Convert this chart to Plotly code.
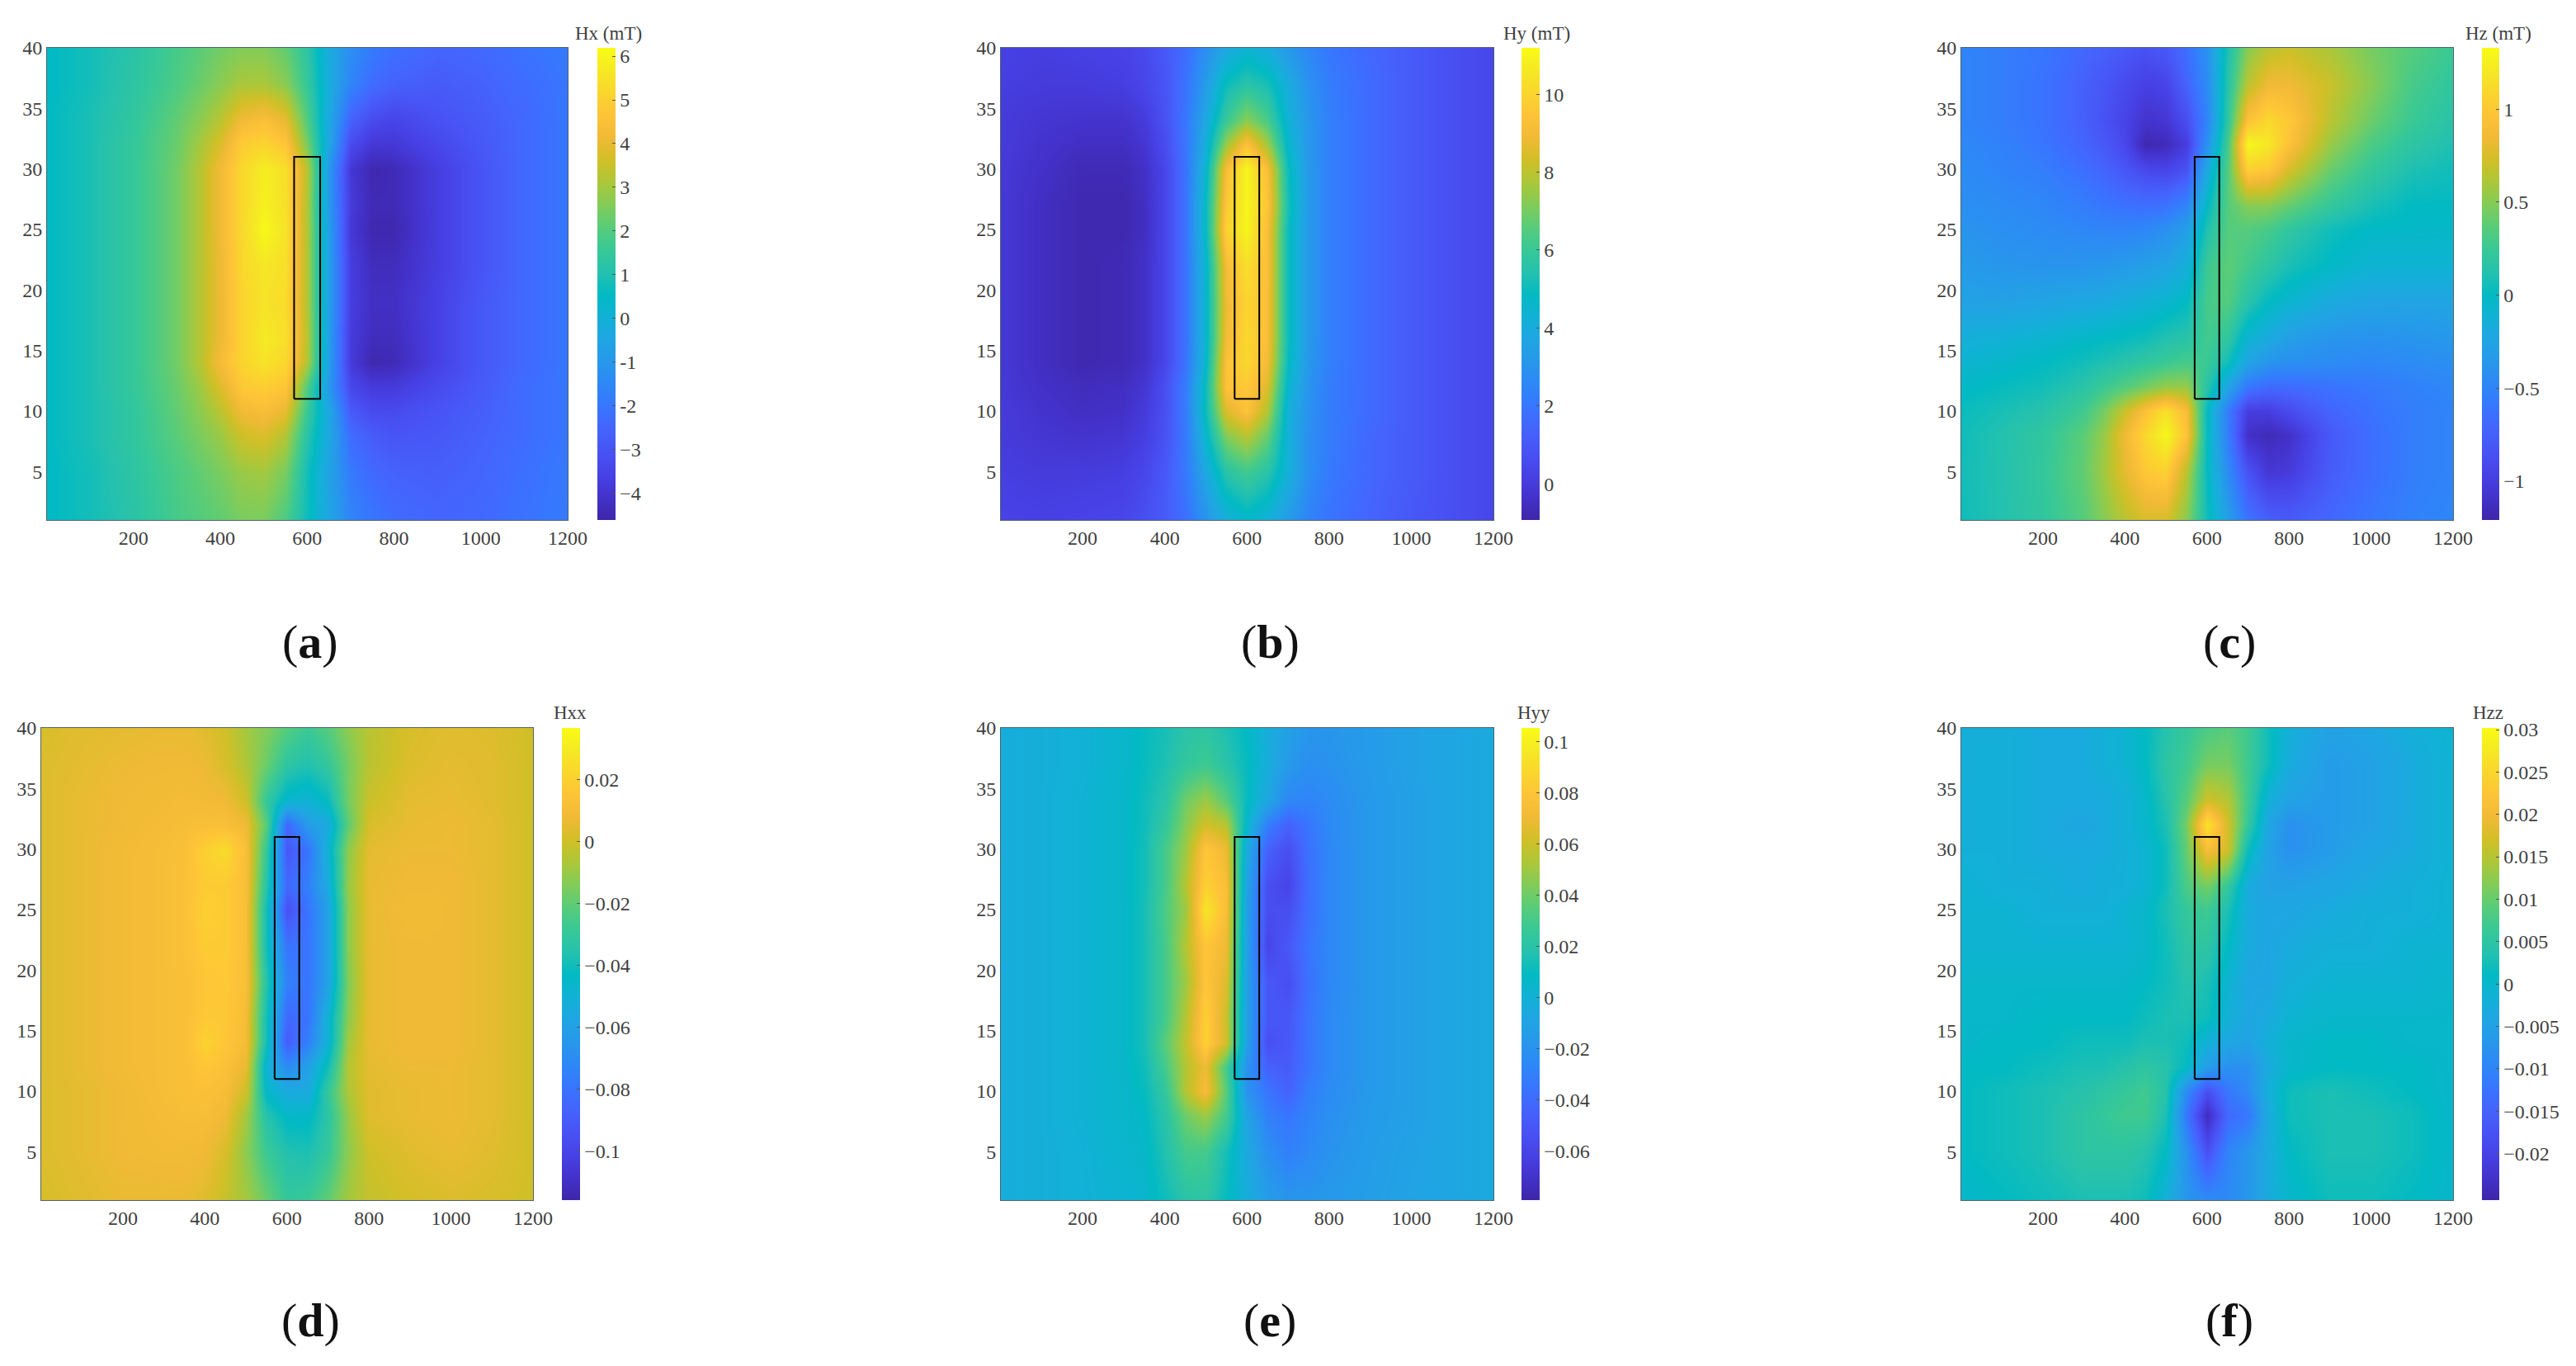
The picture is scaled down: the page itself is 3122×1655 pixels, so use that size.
import plotly.graph_objects as go

W, H = 3122, 1655

x_grid = [1, 100, 200, 300, 350, 400, 450, 500, 550, 600, 650, 700, 750, 800, 900, 1000, 1100, 1200]
y_grid = [40, 37, 34, 32, 30, 27, 25, 22, 19, 16, 14, 12, 10, 8, 5, 1]

rect_x = [570, 630, 630, 570, 570]
rect_y = [11, 11, 31, 31, 11]

hx = [
 [.5,.8,1.2,1.8,2.1,2.4,2.6,2.6,2.2,1.3,-.3,-1.3,-1.9,-2.2,-2.5,-2.4,-2.1,-1.9],
 [.5,.8,1.3,1.9,2.3,2.7,3.1,3.1,2.7,1.5,-.2,-1.6,-2.3,-2.6,-2.8,-2.6,-2.3,-2.0],
 [.5,.9,1.4,2.2,2.7,3.3,4.2,4.5,4.0,2.0,-.4,-2.6,-3.3,-3.5,-3.1,-2.8,-2.4,-2.0],
 [.5,.9,1.5,2.3,3.0,3.8,4.9,5.1,4.7,2.5,-.5,-3.3,-3.9,-3.9,-3.4,-2.9,-2.4,-2.0],
 [.5,.9,1.5,2.4,3.2,4.2,5.2,5.8,5.4,3.3,-1.0,-3.9,-4.5,-4.4,-3.7,-3.0,-2.4,-2.0],
 [.5,.9,1.5,2.4,3.2,4.2,5.2,5.9,5.4,3.2,-1.0,-3.8,-4.4,-4.4,-3.7,-3.0,-2.4,-2.0],
 [.5,.9,1.5,2.4,3.2,4.2,5.2,6.1,5.5,3.2,-.8,-3.9,-4.5,-4.5,-3.7,-3.0,-2.4,-2.0],
 [.5,.9,1.5,2.4,3.2,4.1,5.2,5.6,5.4,3.2,-.8,-3.7,-4.3,-4.3,-3.7,-3.0,-2.4,-2.0],
 [.5,.9,1.5,2.4,3.2,4.1,5.1,5.5,5.3,3.2,-.8,-3.7,-4.2,-4.2,-3.6,-2.9,-2.4,-2.0],
 [.5,.9,1.5,2.4,3.2,4.1,5.1,5.7,5.4,3.3,-.8,-3.8,-4.3,-4.3,-3.6,-2.9,-2.4,-2.0],
 [.5,.9,1.5,2.4,3.2,4.3,5.1,5.5,5.2,3.2,-.8,-3.8,-4.5,-4.4,-3.6,-2.9,-2.4,-2.0],
 [.5,.9,1.5,2.3,2.9,3.8,4.8,4.9,4.7,2.0,-1.0,-3.4,-3.8,-3.8,-3.3,-2.8,-2.3,-2.0],
 [.5,.9,1.4,2.2,2.7,3.3,4.2,4.4,4.0,1.6,-.5,-2.8,-3.3,-3.3,-3.0,-2.7,-2.3,-2.0],
 [.5,.9,1.4,2.1,2.5,2.9,3.6,3.8,3.2,1.2,-.4,-2.3,-2.8,-3.0,-2.9,-2.6,-2.3,-2.0],
 [.5,.8,1.3,1.9,2.2,2.5,2.9,3.0,2.5,.8,-.6,-1.9,-2.4,-2.6,-2.7,-2.5,-2.2,-1.9],
 [.5,.8,1.2,1.8,2.0,2.2,2.5,2.5,1.9,.7,-.5,-1.6,-2.0,-2.3,-2.5,-2.4,-2.1,-1.9],
]

hy = [
 [.2,.1,.2,.3,.5,1,1.7,2.8,3.8,4.4,4.0,3.2,2.5,2.0,1.5,1.1,.7,.4],
 [.1,0,0,.1,.4,.9,1.9,3.3,5.0,5.6,5.2,4.0,2.9,2.2,1.6,1.1,.7,.4],
 [0,-.2,-.3,-.3,0,.8,2.0,3.8,6.0,7.3,6.3,4.3,3.1,2.3,1.6,1.1,.7,.4],
 [0,-.3,-.5,-.5,-.2,.6,2.0,4.1,7.5,9.4,7.6,4.6,3.1,2.3,1.6,1.1,.7,.4],
 [-.1,-.4,-.7,-.7,-.4,.4,1.9,4.5,9.2,11,9.2,5,3.2,2.3,1.6,1.1,.7,.4],
 [-.1,-.5,-.8,-.8,-.5,.4,1.9,4.8,9.6,11,9.5,5.2,3.2,2.3,1.6,1.1,.7,.4],
 [-.1,-.5,-.8,-.8,-.5,.4,1.9,4.8,9.9,11,9.2,5,3.2,2.3,1.6,1.1,.7,.4],
 [-.1,-.5,-.8,-.7,-.4,.4,1.9,4.5,9.1,10.3,9.2,5,3.2,2.3,1.6,1.1,.7,.4],
 [-.1,-.5,-.8,-.7,-.4,.4,1.9,4.5,8.9,10,9.2,5,3.2,2.3,1.6,1.1,.7,.4],
 [-.1,-.5,-.8,-.7,-.4,.4,1.9,4.5,9.0,10.1,9.2,5,3.2,2.3,1.6,1.1,.7,.4],
 [-.1,-.5,-.8,-.7,-.4,.4,1.9,4.6,9.4,10.1,9.0,4.9,3.1,2.3,1.6,1.1,.7,.4],
 [-.1,-.4,-.6,-.5,-.2,.7,2.2,5,9.4,9.6,8.5,4.5,3.0,2.2,1.6,1.1,.7,.4],
 [0,-.3,-.5,-.4,0,.7,2.2,5,8.5,9.4,7.8,4.2,2.9,2.2,1.6,1.1,.7,.4],
 [0,-.2,-.3,-.2,.1,.8,2.1,4.6,7.2,8.0,6.8,4.2,2.8,2.2,1.5,1.1,.7,.4],
 [.1,0,0,.1,.4,1,2.1,3.8,5.6,6.2,5.6,4.2,2.8,2.1,1.5,1.1,.7,.4],
 [.3,.2,.3,.4,.7,1.1,1.8,3,4.1,4.6,4.2,3.3,2.4,1.9,1.4,1.0,.7,.4],
]

hz = [
 [-.5,-.55,-.6,-.7,-.75,-.8,-.85,-.8,-.65,-.4,.1,.5,.65,.7,.6,.45,.35,.25],
 [-.5,-.55,-.62,-.75,-.82,-.9,-.98,-.95,-.72,-.45,.15,.65,.85,.85,.7,.5,.3,.2],
 [-.5,-.55,-.62,-.75,-.85,-.95,-1.08,-1.05,-.88,-.5,.2,.95,1.1,1.0,.65,.42,.25,.15],
 [-.47,-.52,-.6,-.72,-.8,-.92,-1.18,-1.15,-1.0,-.4,.3,1.3,1.2,.95,.55,.32,.18,.1],
 [-.45,-.5,-.55,-.65,-.72,-.82,-.92,-.95,-.85,-.2,.35,1.05,1.0,.75,.42,.22,.1,.05],
 [-.42,-.45,-.48,-.55,-.6,-.63,-.65,-.62,-.5,0,.35,.5,.5,.4,.22,.08,0,0],
 [-.38,-.42,-.45,-.48,-.5,-.5,-.48,-.42,-.3,.12,.35,.35,.3,.2,.05,-.02,-.02,-.03],
 [-.33,-.37,-.38,-.38,-.36,-.33,-.3,-.25,-.15,.25,.38,.28,.18,.08,-.02,-.1,-.1,-.1],
 [-.27,-.27,-.25,-.22,-.2,-.15,-.12,-.07,0,.3,.35,.15,0,-.08,-.2,-.25,-.25,-.25],
 [-.15,-.12,-.08,-.03,0,.02,.05,.12,.15,.28,.2,-.1,-.2,-.3,-.38,-.4,-.38,-.35],
 [-.08,-.05,0,.06,.1,.15,.2,.25,.3,.25,.05,-.25,-.38,-.42,-.45,-.48,-.45,-.42],
 [-.02,.02,.06,.16,.26,.35,.45,.55,.55,.15,-.25,-.6,-.68,-.68,-.62,-.58,-.52,-.48],
 [.03,.08,.14,.28,.45,.7,.95,1.15,.9,0,-.55,-1.0,-1.0,-.9,-.72,-.62,-.55,-.5],
 [.05,.12,.2,.38,.55,.85,1.1,1.3,.95,0,-.55,-1.1,-1.15,-1.1,-.8,-.65,-.55,-.5],
 [.06,.12,.22,.4,.58,.8,1.0,1.05,.65,0,-.45,-.85,-1.05,-1.02,-.78,-.65,-.55,-.5],
 [.05,.12,.2,.36,.5,.65,.75,.75,.5,.05,-.3,-.62,-.75,-.78,-.7,-.6,-.52,-.48],
]

hxx = [
 [.002,.004,.005,.006,.006,.004,0,-.008,-.014,-.022,-.028,-.022,-.012,-.004,.002,.004,.003,0],
 [.003,.005,.007,.008,.008,.007,.002,-.006,-.018,-.032,-.036,-.03,-.016,-.004,.003,.005,.004,0],
 [.003,.006,.008,.009,.010,.009,.008,0,-.03,-.047,-.05,-.042,-.016,-.001,.005,.006,.004,0],
 [.003,.006,.008,.01,.011,.012,.012,.008,-.022,-.085,-.062,-.055,-.02,.002,.006,.007,.005,0],
 [.003,.006,.009,.011,.012,.02,.024,.012,-.03,-.092,-.08,-.05,-.012,.005,.007,.007,.005,0],
 [.003,.006,.009,.011,.013,.018,.018,.012,-.035,-.085,-.075,-.055,-.01,.006,.008,.008,.005,0],
 [.003,.006,.009,.011,.013,.02,.018,.012,-.04,-.095,-.08,-.06,-.012,.006,.009,.008,.005,0],
 [.003,.006,.009,.011,.013,.018,.018,.012,-.04,-.08,-.08,-.06,-.012,.006,.008,.008,.005,0],
 [.003,.006,.009,.011,.012,.016,.017,.012,-.035,-.075,-.08,-.06,-.014,.006,.008,.008,.005,0],
 [.003,.006,.009,.011,.012,.017,.017,.01,-.04,-.085,-.08,-.05,-.012,.006,.008,.008,.005,0],
 [.003,.006,.009,.011,.012,.021,.016,.01,-.04,-.09,-.075,-.05,-.008,.006,.008,.008,.005,0],
 [.003,.006,.009,.011,.012,.016,.013,.006,-.05,-.07,-.06,-.04,-.005,.005,.007,.007,.005,0],
 [.003,.005,.008,.011,.012,.013,.011,0,-.045,-.055,-.055,-.03,-.006,.004,.006,.007,.005,0],
 [.003,.005,.008,.01,.011,.011,.008,-.008,-.035,-.045,-.045,-.033,-.01,.004,.006,.007,.005,0],
 [.003,.005,.008,.009,.009,.008,.002,-.012,-.028,-.036,-.038,-.03,-.012,0,.004,.006,.004,0],
 [.002,.004,.006,.006,.006,.004,-.002,-.008,-.018,-.03,-.028,-.02,-.008,-.002,.001,.003,.002,0],
]

hyy = [
 [-.003,-.002,0,.005,.01,.014,.02,.022,.016,.008,-.003,-.012,-.018,-.018,-.015,-.011,-.008,-.005],
 [-.003,-.002,0,.005,.01,.016,.024,.028,.02,.01,-.003,-.016,-.022,-.02,-.015,-.011,-.008,-.005],
 [-.003,-.002,.001,.006,.012,.02,.04,.05,.035,.01,-.008,-.026,-.028,-.024,-.016,-.012,-.008,-.005],
 [-.003,-.002,.001,.006,.012,.024,.045,.062,.055,.005,-.03,-.045,-.035,-.025,-.016,-.012,-.008,-.005],
 [-.003,-.002,.001,.006,.013,.03,.05,.08,.07,-.005,-.045,-.055,-.037,-.026,-.016,-.012,-.008,-.005],
 [-.003,-.002,.001,.006,.013,.03,.055,.085,.075,-.01,-.055,-.06,-.038,-.026,-.016,-.012,-.008,-.005],
 [-.003,-.002,.001,.006,.014,.032,.05,.095,.075,-.012,-.055,-.055,-.038,-.026,-.016,-.012,-.008,-.005],
 [-.003,-.002,.001,.006,.014,.03,.055,.08,.07,-.012,-.06,-.05,-.035,-.026,-.016,-.012,-.008,-.005],
 [-.003,-.002,.001,.006,.014,.03,.05,.08,.065,-.012,-.05,-.055,-.037,-.026,-.016,-.012,-.008,-.005],
 [-.003,-.002,.001,.006,.014,.03,.055,.085,.06,-.012,-.05,-.05,-.035,-.025,-.016,-.012,-.008,-.005],
 [-.003,-.002,.001,.006,.014,.035,.058,.085,.062,-.012,-.055,-.05,-.035,-.025,-.016,-.012,-.008,-.005],
 [-.003,-.002,.001,.006,.012,.03,.055,.07,.03,-.02,-.045,-.048,-.035,-.025,-.016,-.012,-.008,-.005],
 [-.003,-.002,.001,.005,.01,.024,.055,.075,.035,-.02,-.035,-.045,-.03,-.024,-.016,-.012,-.008,-.005],
 [-.003,-.002,.001,.005,.008,.02,.04,.05,.03,-.01,-.03,-.035,-.028,-.022,-.015,-.012,-.008,-.005],
 [-.003,-.002,0,.004,.006,.017,.03,.03,.014,-.006,-.022,-.03,-.025,-.02,-.014,-.011,-.008,-.005],
 [-.003,-.002,0,.002,.004,.012,.02,.022,.01,-.003,-.014,-.018,-.018,-.016,-.013,-.01,-.008,-.005],
]

hzz = [
 [-.002,-.002,-.003,-.003,-.002,-.001,.001,.004,.006,.008,.009,.007,.002,-.002,-.005,-.004,-.002,-.001],
 [-.002,-.002,-.003,-.003,-.002,-.001,.001,.005,.007,.011,.011,.007,.002,-.003,-.006,-.005,-.003,-.001],
 [-.002,-.002,-.003,-.003,-.003,-.002,0,.004,.009,.017,.015,.007,-.002,-.005,-.006,-.005,-.003,-.001],
 [-.002,-.002,-.003,-.004,-.003,-.002,0,.003,.011,.027,.017,.006,-.004,-.008,-.006,-.005,-.003,-.001],
 [-.002,-.002,-.003,-.003,-.003,-.002,-.001,.002,.01,.021,.017,.002,-.005,-.008,-.006,-.004,-.003,-.001],
 [-.001,-.002,-.002,-.003,-.002,-.002,-.001,.002,.008,.011,.006,-.003,-.005,-.005,-.004,-.003,-.002,-.001],
 [-.001,-.001,-.002,-.002,-.002,-.001,0,.003,.006,.007,.003,-.003,-.004,-.004,-.003,-.002,-.002,-.001],
 [-.001,-.001,-.001,-.001,-.001,-.001,0,.002,.005,.005,.001,-.003,-.004,-.003,-.002,-.002,-.001,-.001],
 [0,0,0,0,0,0,.001,.002,.004,.003,-.001,-.004,-.004,-.002,-.001,-.001,-.001,0],
 [0,0,.001,.001,.001,.001,.002,.003,.003,.002,-.002,-.004,-.003,-.001,0,0,0,0],
 [0,.001,.001,.002,.002,.002,.003,.003,.002,-.002,-.004,-.005,-.002,0,.001,.001,0,0],
 [.001,.001,.002,.003,.003,.004,.005,.004,.001,-.006,-.008,-.008,-.003,0,.001,.001,.001,0],
 [.001,.002,.003,.004,.005,.006,.007,.004,-.009,-.018,-.012,-.009,-.002,.002,.003,.002,.001,0],
 [.001,.002,.003,.005,.006,.007,.007,.003,-.012,-.024,-.014,-.012,-.003,.002,.003,.003,.002,0],
 [.001,.002,.003,.005,.005,.005,.004,.001,-.008,-.018,-.01,-.007,-.003,.001,.003,.003,.002,0],
 [0,.001,.002,.003,.003,.003,.002,-.002,-.007,-.009,-.009,-.007,-.003,0,.002,.002,.001,0],
]

parula = [
 (.2422,.1504,.6603),(.2647,.1978,.7952),(.2783,.2559,.8991),(.2810,.3228,.9579),
 (.2699,.3892,.9906),(.2206,.4603,.9973),(.1786,.5289,.9682),(.1540,.5902,.9218),
 (.1248,.6459,.8883),(.0689,.6948,.8394),(.0067,.7312,.7660),(.1408,.7584,.6842),
 (.2161,.7843,.5923),(.3406,.8008,.4789),(.5044,.7993,.3480),(.6720,.7793,.2227),
 (.8203,.7498,.1535),(.9393,.7288,.2100),(.9970,.7659,.2199),(.9786,.8386,.1766),
 (.9597,.9135,.1423),(.9769,.9839,.0805),
]
scale = [[i / (len(parula) - 1), f"rgb({r*255:.0f},{g*255:.0f},{b*255:.0f})"] for i, (r, g, b) in enumerate(parula)]

panels = [
 dict(z=hx, zmin=-4.61, zmax=6.19, px=(57, 688), py=(58, 630), cb=(724, 746), title="Hx (mT)", tx=737, ty=40,
      tv=[-4,-3,-2,-1,0,1,2,3,4,5,6], tt=["−4","−3","-2","-1","0","1","2","3","4","5","6"], letter="a", lx=376, ly=778),
 dict(z=hy, zmin=-.93, zmax=11.19, px=(1213, 1810), py=(58, 630), cb=(1844, 1866), title="Hy (mT)", tx=1863, ty=40,
      tv=[0,2,4,6,8,10], tt=["0","2","4","6","8","10"], letter="b", lx=1539, ly=778),
 dict(z=hz, zmin=-1.21, zmax=1.33, px=(2377, 2973), py=(58, 630), cb=(3008, 3029), title="Hz (mT)", tx=3028, ty=40,
      tv=[-1,-.5,0,.5,1], tt=["−1","−0.5","0","0.5","1"], letter="c", lx=2702, ly=778),
 dict(z=hxx, zmin=-.1158, zmax=.0368, px=(50, 646), py=(882, 1454), cb=(681, 703), title="Hxx", tx=691, ty=863,
      tv=[-.1,-.08,-.06,-.04,-.02,0,.02], tt=["−0.1","−0.08","−0.06","−0.04","−0.02","0","0.02"], letter="d", lx=376, ly=1599),
 dict(z=hyy, zmin=-.0792, zmax=.1054, px=(1213, 1810), py=(882, 1454), cb=(1844, 1866), title="Hyy", tx=1859, ty=863,
      tv=[-.06,-.04,-.02,0,.02,.04,.06,.08,.1], tt=["−0.06","−0.04","−0.02","0","0.02","0.04","0.06","0.08","0.1"], letter="e", lx=1539, ly=1599),
 dict(z=hzz, zmin=-.0255, zmax=.0302, px=(2377, 2973), py=(882, 1454), cb=(3008, 3029), title="Hzz", tx=3015, ty=863,
      tv=[-.02,-.015,-.01,-.005,0,.005,.01,.015,.02,.025,.03],
      tt=["−0.02","−0.015","−0.01","−0.005","0","0.005","0.01","0.015","0.02","0.025","0.03"], letter="f", lx=2702, ly=1599),
]

SERIF = "Liberation Serif"
TXT = "#404040"
fig = go.Figure()
annotations = []
layout_axes = {}
for i, p in enumerate(panels, start=1):
    xa, ya = f"x{i}", f"y{i}"
    fig.add_trace(go.Heatmap(
        x=x_grid, y=y_grid[::-1], z=p["z"][::-1], zmin=p["zmin"], zmax=p["zmax"],
        colorscale=scale, zsmooth="best", xaxis=xa, yaxis=ya, hoverinfo="skip",
        colorbar=dict(
            x=p["cb"][0] / W, xanchor="left", xref="paper", xpad=0, ypad=0,
            y=1 - (p["py"][0] + p["py"][1]) / 2 / H, yanchor="middle", yref="paper",
            len=(p["py"][1] - p["py"][0]) / H, lenmode="fraction",
            thickness=p["cb"][1] - p["cb"][0], thicknessmode="pixels",
            outlinewidth=0, ticks="inside", ticklen=4, tickcolor="#555", tickwidth=1,
            tickmode="array", tickvals=p["tv"], ticktext=p["tt"],
            tickfont=dict(family=SERIF, size=24, color=TXT),
        ),
    ))
    fig.add_trace(go.Scatter(x=rect_x, y=rect_y, mode="lines", xaxis=xa, yaxis=ya,
                             line=dict(color="black", width=2), showlegend=False, hoverinfo="skip"))
    common = dict(showline=True, mirror=True, linecolor="#50626a", linewidth=1, showgrid=False, zeroline=False,
                  ticks="", tickfont=dict(family=SERIF, size=24, color=TXT))
    layout_axes[f"xaxis{i}"] = dict(domain=[p["px"][0] / W, p["px"][1] / W], range=[1, 1200], anchor=ya,
                                    tickmode="array", tickvals=[200, 400, 600, 800, 1000, 1200], **common)
    layout_axes[f"yaxis{i}"] = dict(domain=[1 - p["py"][1] / H, 1 - p["py"][0] / H], range=[1, 40], anchor=xa,
                                    tickmode="array", tickvals=[5, 10, 15, 20, 25, 30, 35, 40], **common)
    annotations.append(dict(x=p["tx"] / W, y=1 - p["ty"] / H, xref="paper", yref="paper", text=p["title"],
                            showarrow=False, xanchor="center", yanchor="middle",
                            font=dict(family=SERIF, size=23, color=TXT)))
    annotations.append(dict(x=p["lx"] / W, y=1 - p["ly"] / H, xref="paper", yref="paper",
                            text=f"(<b>{p['letter']}</b>)", showarrow=False, xanchor="center", yanchor="middle",
                            font=dict(family=SERIF, size=58, color="#111")))

fig.update_layout(width=W, height=H, margin=dict(l=0, r=0, t=0, b=0, autoexpand=False), paper_bgcolor="white",
                  plot_bgcolor="white", showlegend=False, annotations=annotations, **layout_axes)
fig.write_html("out.html", config={"displayModeBar": False}, post_script="document.body.style.margin='0';")
